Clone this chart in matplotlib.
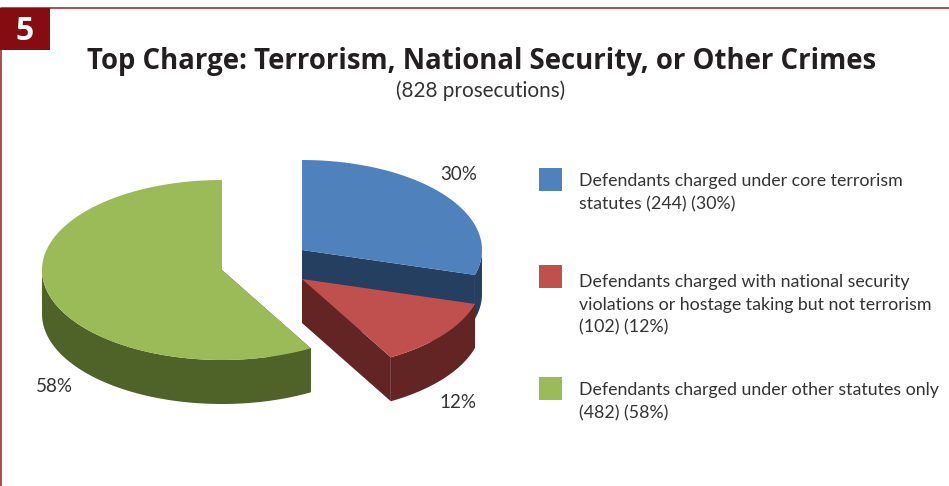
import numpy as np
import matplotlib
matplotlib.use("Agg")
import matplotlib.pyplot as plt
from matplotlib.patches import Polygon, Rectangle

plt.rcParams['font.family'] = ['Lato', 'DejaVu Sans']

labels = ["30%", "12%", "58%"]
counts = [244, 102, 482]
legend_texts = ["Defendants charged under core terrorism\nstatutes (244) (30%)",
                "Defendants charged with national security\nviolations or hostage taking but not terrorism\n(102) (12%)",
                "Defendants charged under other statutes only\n(482) (58%)"]
top_colors = ["#4F81BD", "#C0504D", "#9BBB59"]
side_colors = ["#243F60", "#632523", "#4F6228"]
centers = [(302, 250), (302, 279), (222, 270)]
label_pos = [(459, 174), (458, 402), (54, 386)]
legend_y = [179, 276, 388]
legend_text_y = [192.5, 305, 401.5]

W, H = 949, 486
fig = plt.figure(figsize=(W/100, H/100), dpi=100)
ax = fig.add_axes([0, 0, 1, 1])
ax.set_xlim(0, W); ax.set_ylim(H, 0); ax.axis('off')

RX, RY, D = 180, 90, 44
total = sum(counts)
fr = np.cumsum([0] + counts) / total * 2 * np.pi

def pt(c, t, dy=0):
    return np.column_stack([c[0] + RX*np.sin(t), c[1] - RY*np.cos(t) + dy])

def wedge(i):
    c = centers[i]
    t0, t1 = fr[i], fr[i+1]
    ts = np.linspace(t0, t1, 200)
    for ta in (t0, t1):
        p = pt(c, np.array([ta]))[0]
        ax.add_patch(Polygon([c, p, p+[0, D], (c[0], c[1]+D)], closed=True,
                             fc=side_colors[i], ec='none', zorder=2))
    lo, hi = max(t0, np.pi/2), min(t1, 3*np.pi/2)
    if hi > lo:
        tw = np.linspace(lo, hi, 200)
        a = pt(c, tw); b = pt(c, tw[::-1], D)
        ax.add_patch(Polygon(np.vstack([a, b]), closed=True, fc=side_colors[i], ec='none', zorder=3))
    ax.add_patch(Polygon(np.vstack([[c], pt(c, ts)]), closed=True, fc=top_colors[i], ec='none', zorder=4))

for i in (0, 2, 1):
    wedge(i)

frame = "#A32A30"
ax.plot([0.5, 0.5, W], [H, 8.5, 8.5], color=frame, lw=1.2, zorder=1)
ax.add_patch(Rectangle((0, 8), 50, 42, fc="#850C10", ec='none', zorder=5))
ax.text(25, 31, "5", color='white', fontsize=23, fontweight='bold', ha='center', va='center',
        family=['Open Sans', 'DejaVu Sans'], zorder=6)

ax.text(481.5, 61, "Top Charge: Terrorism, National Security, or Other Crimes", fontsize=19.85,
        fontweight='bold', ha='center', va='center', color='#231F20',
        family=['Open Sans', 'DejaVu Sans'])
ax.text(481, 91, "(828 prosecutions)", fontsize=14.9, ha='center', va='center', color='#333333')

for lab, (x, y) in zip(labels, label_pos):
    ax.text(x, y, lab, fontsize=13.5, ha='center', va='center', color='#333333', zorder=6)

for c, y, ty, t in zip(top_colors, legend_y, legend_text_y, legend_texts):
    ax.add_patch(Rectangle((539, y-11), 23, 23, fc=c, ec='none'))
    ax.text(579, ty, t, fontsize=12.75, ha='left', va='center', color='#333333', linespacing=1.52)

fig.savefig("out.png", dpi=100)
